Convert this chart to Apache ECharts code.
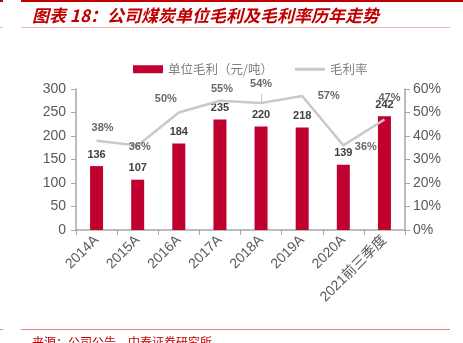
<!DOCTYPE html>
<html><head><meta charset="utf-8">
<script src="https://cdn.jsdelivr.net/npm/echarts@6/dist/echarts.min.js"></script>
<style>html,body{margin:0;padding:0;background:#fff}#c{width:463px;height:343px}</style>
</head><body><div id="c"></div>
<script>
const categories = ['2014A','2015A','2016A','2017A','2018A','2019A','2020A','2021前三季度'];
const unitProfit = [136,107,184,235,220,218,139,242];
const marginPct = [38,36,50,55,54,57,36,47];
const leftTicks = [0,300,50];
const rightTicks = [0,60,10];

const labelOffsets = [[6,-2],[2,2],[-13,-3],[2,-1],[0,-8],[10,0],[6,2],[5,-11]];
const labelPos = ['top','inside','top','top','top','right','right','top'];

const chart = echarts.init(document.getElementById('c'), null, {renderer:'canvas'});
const axisColor = '#a6a6a6';
const tickFont = {color:'#595959', fontSize:14, fontFamily:'Liberation Sans, Arial, sans-serif'};
chart.setOption({
  animation:false,
  grid:{left:76, right:58, top:89, bottom:113},
  legend:{
    top:58, left:128, itemGap:22, itemWidth:30, itemHeight:8,
    textStyle:{color:'#7f7f7f', fontSize:12.5, fontFamily:'Noto Sans CJK SC'},
    data:[{name:'单位毛利（元/吨）', icon:'rect'},{name:'毛利率', icon:'path://M0,0H30V3H0Z'}]
  },
  xAxis:{type:'category', data:categories,
    axisLine:{lineStyle:{color:axisColor, width:1.5}},
    axisTick:{show:true, alignWithLabel:false, length:5, lineStyle:{color:axisColor}},
    axisLabel:Object.assign({rotate:45, interval:0, margin:8}, tickFont, {fontFamily:'Liberation Sans, Noto Sans CJK SC'})
  },
  yAxis:[
    {type:'value', min:leftTicks[0], max:leftTicks[1], interval:leftTicks[2],
     axisLine:{show:true, lineStyle:{color:axisColor, width:1.5}},
     axisTick:{show:true, length:5, lineStyle:{color:axisColor}},
     splitLine:{show:false}, axisLabel:Object.assign({margin:10}, tickFont)},
    {type:'value', min:rightTicks[0], max:rightTicks[1], interval:rightTicks[2],
     axisLine:{show:true, lineStyle:{color:axisColor, width:1.5}},
     axisTick:{show:true, length:5, lineStyle:{color:axisColor}},
     splitLine:{show:false}, axisLabel:Object.assign({margin:8, formatter:'{value}%'}, tickFont)}
  ],
  series:[
    {name:'单位毛利（元/吨）', type:'bar', data:unitProfit, barWidth:13, z:2,
     itemStyle:{color:'#c0002f'},
     label:{show:true, position:'top', distance:6, color:'#404040', fontSize:11, fontWeight:'bold', fontFamily:'Liberation Sans, Arial'}},
    {name:'毛利率', type:'line', yAxisIndex:1, symbol:'none', symbolKeepAspect:true, z:3,
     lineStyle:{color:'#c9c9c9', width:2.5}, itemStyle:{color:'#c9c9c9'},
     data:marginPct},
    {name:'labels', type:'scatter', yAxisIndex:1, symbolSize:1, z:4, silent:true,
     itemStyle:{color:'rgba(0,0,0,0)'},
     data:marginPct.map((v,i)=>({value:[i,v], label:{position:labelPos[i], offset:labelOffsets[i]}})),
     label:{show:true, formatter:(p)=>p.value[1]+'%', color:'#404040', fontSize:11, fontWeight:'bold', fontFamily:'Liberation Sans, Arial'}},
    {name:'leader', type:'line', yAxisIndex:1, symbol:'none', silent:true, z:3,
     lineStyle:{width:0}, data:marginPct.map(()=>null),
     markLine:{silent:true, symbol:'none', label:{show:false}, lineStyle:{color:'#c9c9c9', width:1, type:'solid'},
       data:[[{coord:[4,marginPct[4]]},{coord:[4,marginPct[4]+4]}]]}}
  ],
  graphic:[
    {type:'rect', shape:{x:21,y:0,width:442,height:2}, style:{fill:'#c00000'}},
    {type:'rect', shape:{x:0,y:0,width:3,height:2}, style:{fill:'#c00000'}},
    {type:'rect', shape:{x:21,y:27,width:429,height:1}, style:{fill:'#f2b8b8'}},
    {type:'rect', shape:{x:0,y:27,width:3,height:1}, style:{fill:'#f2b8b8'}},
    {type:'text', left:32, top:7, style:{text:'图表 18：公司煤炭单位毛利及毛利率历年走势', fill:'#c00000', font:'italic bold 17px "Noto Sans CJK SC"'}},
    {type:'rect', shape:{x:21,y:329,width:429,height:1}, style:{fill:'#f08080'}},
    {type:'rect', shape:{x:0,y:329,width:3,height:1}, style:{fill:'#f08080'}},
    {type:'text', left:32, top:336, style:{text:'来源：公司公告，中泰证券研究所', fill:'#c00000', font:'12px "Noto Sans CJK SC"'}}
  ]
});
</script></body></html>
